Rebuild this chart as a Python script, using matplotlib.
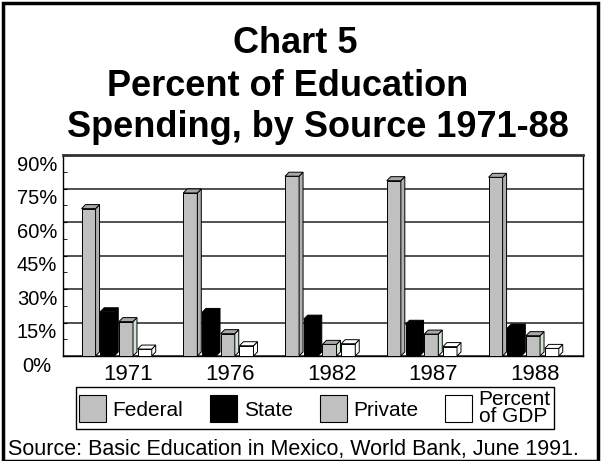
import matplotlib
matplotlib.use("Agg")
import matplotlib.pyplot as plt
from matplotlib.patches import Polygon, Patch, Rectangle
from matplotlib.ticker import MultipleLocator, FuncFormatter
import matplotlib.transforms as mtransforms

plt.rcParams['font.family'] = ['Liberation Sans', 'DejaVu Sans']

years = ['1971', '1976', '1982', '1987', '1988']
federal = [66, 73, 80.5, 78.5, 80]
state = [19.8, 19.5, 16.5, 14.2, 12.5]
private = [15.4, 10, 5.2, 9.8, 9.1]
gdp = [3.1, 4.6, 5.5, 4.2, 3.4]
series_names = ['Federal', 'State', 'Private', 'Percent\nof GDP']
series = [federal, state, private, gdp]

front_col = ['#C0C0C0', '#000000', '#C0C0C0', '#FFFFFF']
top_col = ['#A8A8A8', '#000000', '#A8A8A8', '#FFFFFF']
side_col = ['#B0B0B0', '#000000', '#D6E2D6', '#FFFFFF']

W, H = 602, 461
fig = plt.figure(figsize=(W / 100, H / 100), dpi=100)

def fx(px):
    return px / W

def fy(py):
    return 1 - py / H

ax = fig.add_axes([fx(63), fy(356), fx(583) - fx(63), fy(155) - fy(356)])
ax.set_xlim(-0.55, 4.56)
ax.set_ylim(0, 90)

# gridlines
ax.yaxis.set_major_locator(MultipleLocator(15))
ax.yaxis.set_minor_locator(MultipleLocator(7.5))
ax.grid(axis='y', which='major', color='#202020', linewidth=1.1, zorder=0)
ax.set_axisbelow(True)

bw = 0.138
slot = 0.184
dx = 0.039
dy = 1.8
offsets = [-2 * slot, -slot, 0.0, slot]

for si, vals in enumerate(series):
    for gi, v in enumerate(vals):
        x = gi + offsets[si]
        ax.bar(x, v, width=bw, align='edge', color=front_col[si],
               edgecolor='black', linewidth=0.7, zorder=3)
        top = Polygon([(x, v), (x + dx, v + dy), (x + bw + dx, v + dy), (x + bw, v)],
                      closed=True, facecolor=top_col[si], edgecolor='black',
                      linewidth=0.7, zorder=3)
        side = Polygon([(x + bw, 0), (x + bw + dx, dy), (x + bw + dx, v + dy), (x + bw, v)],
                       closed=True, facecolor=side_col[si], edgecolor='black',
                       linewidth=0.7, zorder=3)
        ax.add_patch(side)
        ax.add_patch(top)

ax.set_xticks([i + 0.09 for i in range(len(years))])
ax.set_xticklabels(years, fontsize=16)
ax.tick_params(axis='x', length=0, pad=6)
ax.yaxis.set_major_formatter(FuncFormatter(lambda v, p: f"{int(v)}%"))
ax.tick_params(axis='y', which='major', direction='in', length=3, labelsize=14.5, pad=18.7)
ax.tick_params(axis='y', which='minor', direction='in', length=3)
off = mtransforms.ScaledTranslation(0, -8 / 100, fig.dpi_scale_trans)
for lab in ax.get_yticklabels():
    lab.set_transform(lab.get_transform() + off)
    lab.set_horizontalalignment('center')

for s in ['left', 'bottom', 'right']:
    ax.spines[s].set_color('black')
    ax.spines[s].set_linewidth(1.0)
ax.spines['top'].set_color('#303030')
ax.spines['top'].set_linewidth(2.0)

# title
tfont = dict(fontsize=26, fontweight='bold', va='baseline', ha='left')
fig.text(fx(233), fy(53), 'Chart 5', **tfont)
fig.text(fx(107), fy(96), 'Percent of Education', **tfont)
fig.text(fx(67), fy(137), 'Spending, by Source 1971-88', **tfont)

# legend
handles = [Patch(facecolor=front_col[i], edgecolor='black', linewidth=0.8) for i in range(4)]
leg = fig.legend(handles, series_names, ncol=4, loc='center',
                 bbox_to_anchor=(fx(315), fy(408)), fontsize=15,
                 frameon=True, fancybox=False, edgecolor='black', framealpha=1,
                 handlelength=1.3, handleheight=1.6, handletextpad=0.3,
                 columnspacing=1.3, borderpad=0.15, labelspacing=0.0)
leg.get_frame().set_linewidth(1.0)
for t in leg.get_texts():
    t.set_linespacing(0.9)

fig.text(fx(8), fy(455), 'Source: Basic Education in Mexico, World Bank, June 1991.',
         fontsize=15.5, va='baseline', ha='left')

# outer frame
fig.patches.append(Rectangle((fx(3), fy(461)), fx(598) - fx(3), fy(3) - fy(461),
                             transform=fig.transFigure, fill=False,
                             edgecolor='black', linewidth=2.5))

fig.savefig('out.png', dpi=100)
